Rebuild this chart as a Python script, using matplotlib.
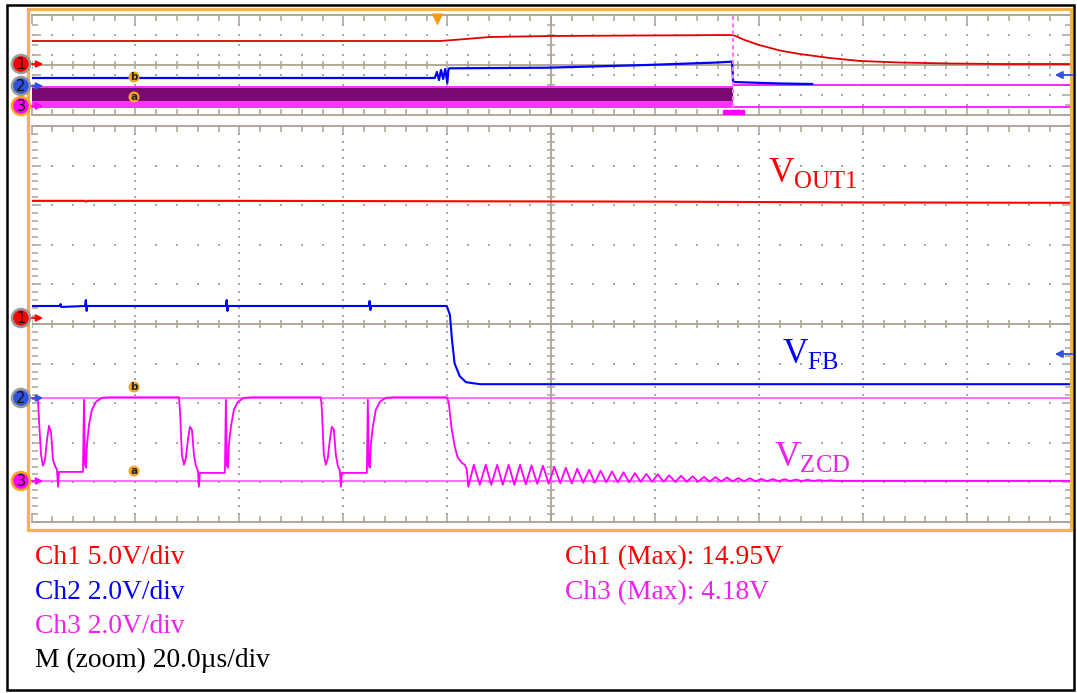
import numpy as np
import matplotlib
matplotlib.use("Agg")
import matplotlib.pyplot as plt
from matplotlib.patches import Circle, Rectangle

plt.rcParams['font.family'] = ['Liberation Serif', 'DejaVu Serif']
plt.rcParams['mathtext.fontset'] = 'custom'
plt.rcParams['mathtext.rm'] = 'Liberation Serif'

# ---- zoom window data (time in us, volts) ----
ch1_offset = 0.14    # ground position, divisions from centre
ch2_offset = -1.87
ch3_offset = -3.96
ch1_scale, ch2_scale, ch3_scale = 5.0, 2.0, 2.0

vout_t = [0, 10.2, 10.5, 10.8, 40, 80, 120, 160, 200]
vout_v = [14.85, 14.85, 14.75, 14.85, 14.85, 14.8, 14.75, 14.65, 14.6]

vfb_t = [0, 5.5, 5.6, 5.7, 10.3, 10.45, 10.6, 10.75, 37.4, 37.55, 37.7, 37.85,
         64.9, 65.05, 65.2, 65.35, 79.9, 80.5, 80.9, 81.4, 82.4, 83.6, 86.3, 200]
vfb_v = [4.65, 4.65, 4.75, 4.6, 4.65, 4.95, 4.4, 4.65, 4.65, 4.95, 4.4, 4.65,
         4.65, 4.9, 4.45, 4.65, 4.65, 4.2, 2.95, 1.75, 1.1, 0.8, 0.7, 0.7]

zcd_sw_t = [0, 1.25, 1.44, 1.83, 2.21, 2.60, 2.98, 3.37, 3.75, 4.13, 4.52, 4.90, 5.10, 5.29, 5.87,
            9.90, 10.10, 10.29, 10.48, 10.67, 11.06, 11.63, 12.40, 13.56, 15.10,
            28.37, 28.56, 28.94, 29.33, 29.71, 30.10, 30.48, 30.87, 31.25, 31.63, 32.02, 32.21, 32.40, 32.98,
            37.21, 37.40, 37.60, 37.79, 37.98, 38.37, 38.94, 39.71, 40.87, 42.40,
            55.67, 55.87, 56.25, 56.63, 57.02, 57.40, 57.79, 58.17, 58.56, 58.94, 59.33, 59.52, 59.71, 60.29,
            64.52, 64.71, 64.90, 65.10, 65.29, 65.67, 66.25, 67.02, 68.17, 69.71,
            79.90, 80.29, 80.48, 80.87, 81.44, 82.02, 82.79, 83.37, 83.75]
zcd_sw_v = [4.14, 4.14, 3.08, 1.31, 0.76, 1.06, 2.07, 2.78, 2.47, 1.06, 0.76, 0.56, -0.30, 0.45, 0.45,
            0.45, 4.09, 0.81, 0.66, 1.82, 2.83, 3.59, 3.99, 4.19, 4.22,
            4.22, 3.59, 1.31, 0.81, 1.16, 2.07, 2.73, 2.58, 1.31, 0.76, 0.51, -0.30, 0.40, 0.40,
            0.40, 4.09, 0.76, 0.66, 1.82, 2.73, 3.59, 3.99, 4.19, 4.22,
            4.22, 3.59, 1.31, 0.81, 1.16, 2.07, 2.73, 2.58, 1.31, 0.76, 0.51, -0.30, 0.40, 0.40,
            0.40, 4.09, 0.76, 0.66, 1.82, 2.73, 3.59, 3.99, 4.19, 4.22,
            4.22, 3.94, 3.43, 2.58, 1.72, 1.16, 0.91, 0.81, 0.56]

ring_trough_t = [84.04, 86.25, 88.46, 90.67, 92.89, 95.10, 97.31, 99.52, 101.73, 103.94, 106.16,
                 108.37, 110.58, 112.79, 115.00, 117.21, 119.42, 121.64, 123.85, 126.06, 128.27,
                 130.48, 132.69, 134.90, 137.12, 139.33, 141.54, 143.75, 145.96, 148.17, 150.39, 152.60]
ring_trough_v = [-0.30, -0.20, -0.20, -0.20, -0.20, -0.18, -0.15, -0.15, -0.13, -0.13, -0.10,
                 -0.10, -0.08, -0.08, -0.08, -0.05, -0.05, -0.05, -0.05, -0.05, -0.04,
                 -0.04, -0.035, -0.03, -0.025, -0.025, -0.02, -0.015, -0.01, -0.01, -0.005, 0.0]
ring_peak_t = [85.1, 87.4, 89.6, 91.8, 94.0, 96.2, 98.4, 100.6, 102.8, 105.0, 107.3,
               109.5, 111.7, 113.9, 116.1, 118.3, 120.5, 122.7, 125.0, 127.2, 129.4,
               131.6, 133.8, 136.0, 138.2, 140.4, 142.6, 144.9, 147.1, 149.3, 151.5, 153.7]
ring_peak_v = [0.81, 0.81, 0.81, 0.81, 0.81, 0.78, 0.76, 0.71, 0.66, 0.61, 0.56,
               0.51, 0.47, 0.43, 0.39, 0.35, 0.33, 0.28, 0.25, 0.23, 0.20,
               0.19, 0.17, 0.14, 0.13, 0.10, 0.09, 0.08, 0.066, 0.05, 0.035, 0.025]
zcd_end_t = [155.0, 200.0]
zcd_end_v = [0.0, 0.0]

# ---- overview window data (screen divisions) ----
ov_red_x = [0, 3.93, 4.12, 4.41, 4.99, 6.24, 6.75, 6.86, 7.0, 7.2, 7.39, 7.68, 7.97, 8.35, 8.83, 9.31, 10]
ov_red_y = [2.4, 2.4, 2.55, 2.8, 2.9, 2.97, 3.0, 2.5, 2.0, 1.45, 1.1, 0.7, 0.4, 0.25, 0.15, 0.1, 0.1]
ov_blue_x = [0, 3.88, 3.90, 3.92, 3.94, 3.96, 3.98, 4.0, 4.01, 4.02, 4.96, 5.92, 6.55, 6.74, 6.75, 7.2, 7.51]
ov_blue_y = [-1.3, -1.3, -0.7, -1.5, -0.5, -1.4, -0.4, -1.8, -0.5, -0.33, -0.27, 0.0, 0.23, 0.33, -1.7, -1.85, -1.9]
ov_band_x = [0, 6.75]
ov_band_top = [-2.05, -2.05]
ov_band_dark = [-2.25, -2.25]
ov_band_mid = [-3.6, -3.6]
ov_band_bot = [-4.25, -4.25]
ov_after_x = [6.75, 10]
ov_after_hi = [-2.03, -2.03]
ov_after_lo = [-4.15, -4.15]

labels_left = ['Ch1 5.0V/div', 'Ch2 2.0V/div', 'Ch3 2.0V/div', 'M (zoom) 20.0\u00b5s/div']
labels_left_col = ['#ff0000', '#0000ff', '#ee22ee', '#000000']
labels_right = ['Ch1 (Max): 14.95V', 'Ch3 (Max): 4.18V']
labels_right_col = ['#ff0000', '#ee22ee']

RED, BLUE, MAG = '#ff0000', '#0000ff', '#ff00ff'
GRID = '#aaa390'
DOT = '#aea894'
W, H = 1077, 693

fig = plt.figure(figsize=(W / 100, H / 100), dpi=100)


def box(x0, y0, x1, y1):
    return [x0 / W, 1 - y1 / H, (x1 - x0) / W, (y1 - y0) / H]


def draw_grid(ax, xmax, ymax, xmaj, xmin, ymaj, ymin):
    ax.set_xlim(0, xmax)
    ax.set_ylim(-ymax, ymax)
    ax.set_facecolor('white')
    for s in ['left', 'right']:
        ax.spines[s].set_visible(False)
    for s in ['top', 'bottom']:
        ax.spines[s].set_color(GRID)
        ax.spines[s].set_linewidth(1.3)
    xm = np.arange(0, xmax + 1e-9, xmaj)
    xn = np.arange(0, xmax + 1e-9, xmin)
    ym = np.arange(-ymax, ymax + 1e-9, ymaj)
    yn = np.arange(-ymax, ymax + 1e-9, ymin)
    ax.set_xticks(xm)
    ax.set_xticks(xn, minor=True)
    ax.set_yticks(ym)
    ax.set_yticks(yn, minor=True)
    ax.tick_params(which='both', direction='in', top=True, bottom=True, left=True, right=True,
                   labelleft=False, labelbottom=False, color=GRID, width=1.1)
    ax.tick_params(which='major', length=6.5)
    ax.tick_params(which='minor', length=4.3)
    # centre cross with ticks
    ax.axhline(0, color=GRID, lw=1.3, zorder=1)
    ax.axvline(xmax / 2, color=GRID, lw=1.3, zorder=1)
    ax.plot(xn, np.zeros_like(xn), ls='none', marker='|', ms=6, mew=1.1, color=GRID, zorder=1)
    ax.plot(np.full_like(yn, xmax / 2), yn, ls='none', marker='_', ms=6, mew=1.1, color=GRID, zorder=1)
    # dotted graticule
    for x in xm[1:-1]:
        ax.plot(np.full_like(yn, x), yn, ls='none', marker='s', ms=1.6, mew=0, color=DOT, zorder=1)
    for y in ym[1:-1]:
        ax.plot(xn, np.full_like(xn, y), ls='none', marker='s', ms=1.6, mew=0, color=DOT, zorder=1)


ax_top = fig.add_axes(box(31.5, 15, 1071, 115))
draw_grid(ax_top, 10, 5, 1, 0.2, 2, 1)
ax_zoom = fig.add_axes(box(31.5, 126, 1071, 522))
draw_grid(ax_zoom, 200, 5, 20, 4, 1, 0.2)

# overview traces
ax_top.fill_between(ov_band_x, ov_band_top, ov_band_bot, color='#ff33ff', lw=0, zorder=2)
ax_top.fill_between(ov_band_x, ov_band_dark, ov_band_mid, color='#780a72', lw=0, zorder=2)
ax_top.plot(ov_after_x, ov_after_hi, color=MAG, lw=1.2, zorder=2)
ax_top.plot(ov_after_x, ov_after_lo, color=MAG, lw=1.2, zorder=2)
ax_top.plot(ov_red_x, ov_red_y, color='#e00000', lw=1.3, zorder=3)
ax_top.plot(ov_blue_x, ov_blue_y, color=BLUE, lw=1.6, zorder=3)
ax_top.axvline(6.75, color='#ff77ff', lw=1.5, ls=(0, (2, 1.5)), zorder=4)
ax_top.add_patch(Rectangle((6.65, -4.95), 0.2, 0.45, color=MAG, zorder=4))

# zoom traces
zcd_t = zcd_sw_t + [v for pair in zip(ring_trough_t, ring_peak_t) for v in pair] + zcd_end_t
zcd_v = zcd_sw_v + [v for pair in zip(ring_trough_v, ring_peak_v) for v in pair] + zcd_end_v
ax_zoom.axhline(ch2_offset, color='#ff55ff', lw=1.2, zorder=2)
ax_zoom.axhline(ch3_offset, color='#ff55ff', lw=1.2, zorder=2)
ax_zoom.plot(vout_t, np.array(vout_v) / ch1_scale + ch1_offset, color=RED, lw=1.5, zorder=3)
ax_zoom.plot(vfb_t, np.array(vfb_v) / ch2_scale + ch2_offset, color=BLUE, lw=1.5, zorder=3)
ax_zoom.plot(zcd_t, np.array(zcd_v) / ch3_scale + ch3_offset, color=MAG, lw=1.3, zorder=3,
             solid_joinstyle='round')

# overlay in pixel coordinates
ov = fig.add_axes([0, 0, 1, 1])
ov.set_xlim(0, W)
ov.set_ylim(H, 0)
ov.axis('off')
ov.add_patch(Rectangle((7, 4.5), 1067, 685, fill=False, ec='black', lw=1.8))
ov.add_patch(Rectangle((28, 9), 1043, 521, fill=False, ec='#f7b24a', lw=2.3))


def ch_marker(y, num, col, ring):
    ov.add_patch(Circle((21, y), 9, fc=col, ec=ring, lw=1.8, zorder=5))
    ov.text(21, y + 0.5, num, ha='center', va='center', fontsize=10.5, family='DejaVu Sans', color='#111111', zorder=6)
    ov.annotate('', xy=(46, y), xytext=(29, y),
                arrowprops=dict(arrowstyle='-|>', color=col, lw=1.3, mutation_scale=10), zorder=5)


def ref_marker(x, y, letter):
    ov.add_patch(Circle((x, y), 5.5, fc='#f5a623', ec='none', zorder=5))
    ov.text(x, y + 0.5, letter, ha='center', va='center', fontsize=7.5, family='DejaVu Sans',
            weight='bold', color='#222222', zorder=6)


for y, num, col, ring in [(64, '1', RED, '#9a9a9a'), (86, '2', '#3050e0', '#9a9a9a'), (106, '3', MAG, '#f5a623'),
                          (318, '1', RED, '#9a9a9a'), (398, '2', '#3050e0', '#9a9a9a'), (481, '3', MAG, '#f5a623')]:
    ch_marker(y, num, col, ring)
for x, y, letter in [(134, 77, 'b'), (134, 97, 'a'), (134, 387, 'b'), (134, 471, 'a')]:
    ref_marker(x, y, letter)

ov.plot(437, 19, marker='v', ms=8, color='#f39c12', mec='none')
for y in [75, 354]:
    ov.annotate('', xy=(1052, y), xytext=(1076, y),
                arrowprops=dict(arrowstyle='-|>', color='#3050e0', lw=1.3, mutation_scale=11))

ov.text(768, 182, r'V$_{\mathrm{OUT1}}$', color=RED, fontsize=25.5, ha='left', va='baseline')
ov.text(782, 363, r'V$_{\mathrm{FB}}$', color=BLUE, fontsize=25.5, ha='left', va='baseline')
ov.text(774, 466, r'V$_{\mathrm{ZCD}}$', color='#ee22ee', fontsize=25.5, ha='left', va='baseline')

for i, (s, c) in enumerate(zip(labels_left, labels_left_col)):
    ov.text(35, 558 + 34.3 * i, s, color=c, fontsize=19.8, ha='left', va='center')
for i, (s, c) in enumerate(zip(labels_right, labels_right_col)):
    ov.text(565, 558 + 34.3 * i, s, color=c, fontsize=19.8, ha='left', va='center')

fig.savefig('out.png', dpi=100, facecolor='white')
